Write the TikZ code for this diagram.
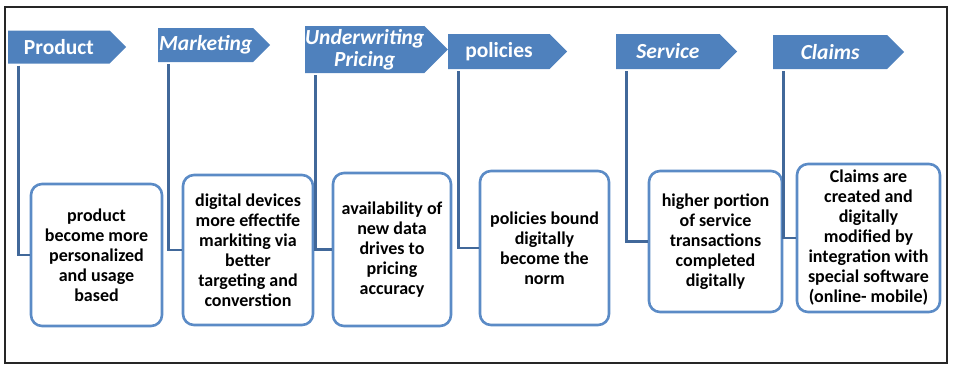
\documentclass[tikz,border=0pt]{standalone}
\usepackage{fontspec}
\setmainfont{Carlito}
\usetikzlibrary{shapes.symbols}
\definecolor{headblue}{HTML}{4F81BD}
\definecolor{lineblue}{HTML}{41689A}
\definecolor{boxblue}{HTML}{5B8BC6}
\tikzset{
  stage/.style={shape=signal, signal to=east, signal pointer angle=90,
    fill=headblue, draw=none, text=white, anchor=west, inner sep=0pt,
    font=\fontsize{21.5}{22}\selectfont\bfseries, align=center},
  note/.style={draw=boxblue, line width=2.6pt, rounded corners=11pt, fill=white,
    align=center, inner sep=0pt, font=\fontsize{18}{20}\selectfont\bfseries},
  link/.style={draw=lineblue, line width=2.8pt}
}
\begin{document}
\begin{tikzpicture}[x=1pt,y=-1pt]
\useasboundingbox (0,0) rectangle (954,370);
\draw[line width=1.2pt, black!85] (5,7) rectangle (947,363);
\node[stage, minimum width=118pt, minimum height=33pt] (p1) at (8,47) {Product};
\node[stage, minimum width=112pt, minimum height=34pt] (p2) at (158,45) {\itshape Marketing};
\node[stage, minimum width=132pt, minimum height=47pt] (p3) at (305,49.5) {\itshape Underwriting\\\itshape Pricing};
\node[stage, minimum width=119pt, minimum height=35pt] (p4) at (448,51.5) {policies};
\node[stage, minimum width=121pt, minimum height=35pt] (p5) at (616,51.5) {\itshape Service};
\node[stage, minimum width=131pt, minimum height=34pt] (p6) at (773,52) {\itshape Claims};
\node[note, minimum width=131pt, minimum height=142pt] (b1) at (96.5,255) {product\\become more\\personalized\\and usage\\based};
\node[note, minimum width=130pt, minimum height=150pt] (b2) at (248,250) {digital devices\\more effectife\\markiting via\\better\\targeting and\\converstion};
\node[note, minimum width=118pt, minimum height=153pt] (b3) at (392,249.5) {availability of\\new data\\drives to\\pricing\\accuracy};
\node[note, minimum width=129pt, minimum height=154pt] (b4) at (544.5,248) {policies bound\\digitally\\become the\\norm};
\node[note, minimum width=133pt, minimum height=141pt] (b5) at (715.5,241.5) {higher portion\\of service\\transactions\\completed\\digitally};
\node[note, minimum width=143pt, minimum height=148pt] (b6) at (868.5,238) {Claims are\\created and\\digitally\\modified by\\integration with\\special software\\(online- mobile)};
\foreach \i in {1,...,6}
  \draw[link] ([xshift=10.5pt,yshift=-2pt]p\i.south west) |- (b\i.west);
\end{tikzpicture}
\end{document}
